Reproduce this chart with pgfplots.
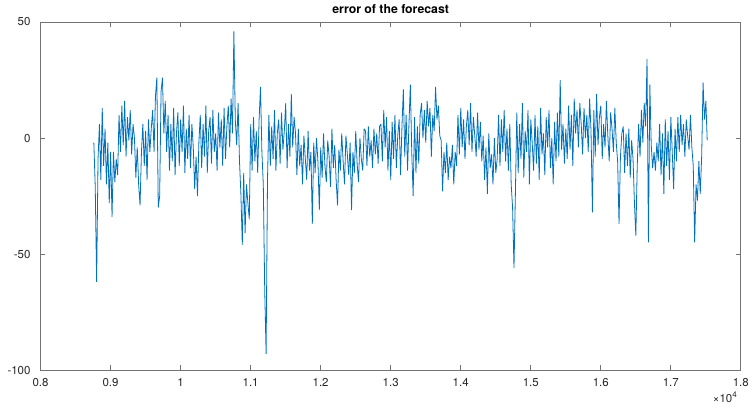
\documentclass[border=0pt]{standalone}
\usepackage{pgfplots}
\pgfplotsset{compat=1.18}
\usepackage{fontspec}
\setmainfont{TeX Gyre Heros}
\definecolor{mblue}{HTML}{0072BD}
\begin{document}
\begin{tikzpicture}
\begin{axis}[
  scale only axis, width=525pt, height=261pt,
  xmin=8000, xmax=18000, ymin=-100, ymax=50,
  xtick={8000,9000,...,18000},
  xticklabels={0.8,0.9,1,1.1,1.2,1.3,1.4,1.5,1.6,1.7,1.8},
  ytick={-100,-50,0,50},
  scaled x ticks=false,
  tick align=inside, major tick length=3.5pt,
  axis line style={black!55, line width=0.5pt},
  tick style={black!55, line width=0.5pt},
  ticklabel style={font=\fontsize{8.6}{10}\selectfont, text=black!85},
  xticklabel style={yshift=-3pt},
  yticklabel style={xshift=-4pt},
  /pgf/number format/assume math mode=true,
  title={error of the forecast},
  title style={font=\bfseries\fontsize{9.2}{11}\selectfont, yshift=-3pt},
]
% forecast error
\addplot[mblue, line width=0.6pt, line join=bevel] coordinates {
(8761,-2) (8781,-21) (8801,-62) (8821,-9) (8841,6) (8861,-18) (8881,13) (8901,-12) (8921,4) (8941,-20)
(8961,-2) (8981,-28) (9001,-6) (9021,-34) (9041,-6) (9061,-19) (9081,-9) (9101,-16) (9121,10) (9141,-6)
(9161,14) (9181,-3) (9201,16) (9221,-8) (9241,9) (9261,-1) (9281,12) (9301,-7) (9321,6) (9341,0)
(9361,-17) (9381,-4) (9401,-20) (9421,-29) (9441,-6) (9461,6) (9481,-12) (9501,3) (9521,-18) (9541,8)
(9561,-6) (9581,4) (9601,12) (9621,-6) (9641,18) (9661,26) (9681,-30) (9701,-25) (9721,20) (9741,26)
(9761,2) (9781,16) (9801,-6) (9821,10) (9841,-14) (9861,6) (9881,-10) (9901,13) (9921,-16) (9941,2)
(9961,11) (9981,-12) (10001,8) (10021,-6) (10041,14) (10061,-15) (10081,4) (10101,-9) (10121,10) (10141,-13)
(10161,6) (10181,-4) (10201,-22) (10221,-8) (10241,-25) (10261,-2) (10281,10) (10301,-13) (10321,6) (10341,-8)
(10361,14) (10381,-15) (10401,3) (10421,9) (10441,-11) (10461,12) (10481,-6) (10501,2) (10521,-14) (10541,11)
(10561,-4) (10581,8) (10601,-12) (10621,13) (10641,-9) (10661,5) (10681,14) (10701,-4) (10721,17) (10741,2)
(10761,46) (10781,8) (10801,-3) (10821,15) (10841,-10) (10861,-24) (10881,-46) (10901,-15) (10921,-41) (10941,-20)
(10961,-28) (10981,-35) (11001,6) (11021,-14) (11041,9) (11061,-10) (11081,3) (11101,-15) (11121,8) (11141,22)
(11161,-6) (11181,-20) (11201,-65) (11221,-93) (11241,-18) (11261,10) (11281,-12) (11301,5) (11321,-9) (11341,12)
(11361,-14) (11381,2) (11401,8) (11421,-11) (11441,11) (11461,-5) (11481,3) (11501,15) (11521,-13) (11541,6)
(11561,-8) (11581,19) (11601,-4) (11621,9) (11641,2) (11661,-16) (11681,4) (11701,-12) (11721,-3) (11741,-20)
(11761,1) (11781,-9) (11801,-18) (11821,3) (11841,-14) (11861,-6) (11881,-37) (11901,-2) (11921,-15) (11941,0)
(11961,-10) (11981,-31) (12001,-4) (12021,-17) (12041,2) (12061,-12) (12081,-19) (12101,-1) (12121,-8) (12141,-21)
(12161,4) (12181,-13) (12201,-3) (12221,-18) (12241,-29) (12261,-5) (12281,-14) (12301,2) (12321,-10) (12341,-20)
(12361,1) (12381,-7) (12401,-16) (12421,-2) (12441,-31) (12461,-6) (12481,-15) (12501,3) (12521,-11) (12541,-19)
(12561,0) (12581,-9) (12601,-14) (12621,4) (12641,3) (12661,-12) (12681,5) (12701,-8) (12721,-1) (12741,-13)
(12761,4) (12781,-7) (12801,2) (12821,-11) (12841,5) (12861,6) (12881,-10) (12901,12) (12921,-4) (12941,9)
(12961,-14) (12981,3) (13001,-18) (13021,7) (13041,-9) (13061,10) (13081,-13) (13101,1) (13121,8) (13141,-16)
(13161,5) (13181,21) (13201,-8) (13221,10) (13241,-14) (13261,6) (13281,23) (13301,-6) (13321,-25) (13341,9)
(13361,-15) (13381,5) (13401,-11) (13421,10) (13441,15) (13461,0) (13481,12) (13501,-2) (13521,16) (13541,5)
(13561,13) (13581,-8) (13601,10) (13621,3) (13641,22) (13661,8) (13681,14) (13701,1) (13721,-1) (13741,-23)
(13761,-6) (13781,-15) (13801,-2) (13821,-18) (13841,-8) (13861,-13) (13881,-3) (13901,-20) (13921,-6) (13941,-12)
(13961,10) (13981,-7) (14001,13) (14021,-4) (14041,8) (14061,-9) (14081,5) (14101,12) (14121,-3) (14141,15)
(14161,-6) (14181,9) (14201,1) (14221,-8) (14241,11) (14261,-5) (14281,7) (14301,-10) (14321,1) (14341,-18)
(14361,-4) (14381,-24) (14401,2) (14421,-13) (14441,-7) (14461,-20) (14481,0) (14501,-15) (14521,-9) (14541,10)
(14561,-12) (14581,8) (14601,-6) (14621,12) (14641,-10) (14661,4) (14681,-14) (14701,6) (14721,-20) (14741,-30)
(14761,-56) (14781,-24) (14801,11) (14821,-15) (14841,6) (14861,-9) (14881,15) (14901,-17) (14921,3) (14941,-6)
(14961,12) (14981,-20) (15001,8) (15021,-2) (15041,-14) (15061,10) (15081,-11) (15101,5) (15121,-18) (15141,13)
(15161,-7) (15181,2) (15201,-16) (15221,9) (15241,-4) (15261,12) (15281,-13) (15301,0) (15321,-20) (15341,7)
(15361,-10) (15381,11) (15401,-8) (15421,25) (15441,-5) (15461,6) (15481,-11) (15501,4) (15521,-9) (15541,14)
(15561,-5) (15581,10) (15601,-12) (15621,17) (15641,2) (15661,12) (15681,-4) (15701,15) (15721,6) (15741,-7)
(15761,13) (15781,0) (15801,10) (15821,-6) (15841,17) (15861,3) (15881,-32) (15901,12) (15921,-8) (15941,19)
(15961,-3) (15981,9) (16001,14) (16021,-9) (16041,6) (16061,-4) (16081,16) (16101,1) (16121,-10) (16141,11)
(16161,4) (16181,-6) (16201,13) (16221,-2) (16241,-10) (16261,-37) (16281,-8) (16301,2) (16321,5) (16341,-15)
(16361,2) (16381,-12) (16401,4) (16421,-17) (16441,-1) (16461,-9) (16481,-28) (16501,-42) (16521,-12) (16541,6)
(16561,-8) (16581,12) (16601,-2) (16621,15) (16641,5) (16661,34) (16681,-45) (16701,23) (16721,-3) (16741,-13)
(16761,-6) (16781,-14) (16801,-2) (16821,-10) (16841,6) (16861,-16) (16881,2) (16901,-24) (16921,8) (16941,-12)
(16961,3) (16981,-18) (17001,9) (17021,-6) (17041,-22) (17061,4) (17081,-10) (17101,9) (17121,-6) (17141,10)
(17161,-3) (17181,6) (17201,-8) (17221,8) (17241,1) (17261,-5) (17281,10) (17301,-4) (17321,-12) (17341,-45)
(17361,-20) (17381,-27) (17401,-10) (17421,-24) (17441,-8) (17461,24) (17481,8) (17501,16) (17520,-1)
};
\end{axis}
\node[anchor=east, font=\fontsize{8.6}{10}\selectfont, text=black!85] at (526pt,-20.5pt) {×10\textsuperscript{4}};
\pgfresetboundingbox
\path (-30.4pt,-27pt) rectangle (533.4pt,277.5pt);
\end{tikzpicture}
\end{document}
